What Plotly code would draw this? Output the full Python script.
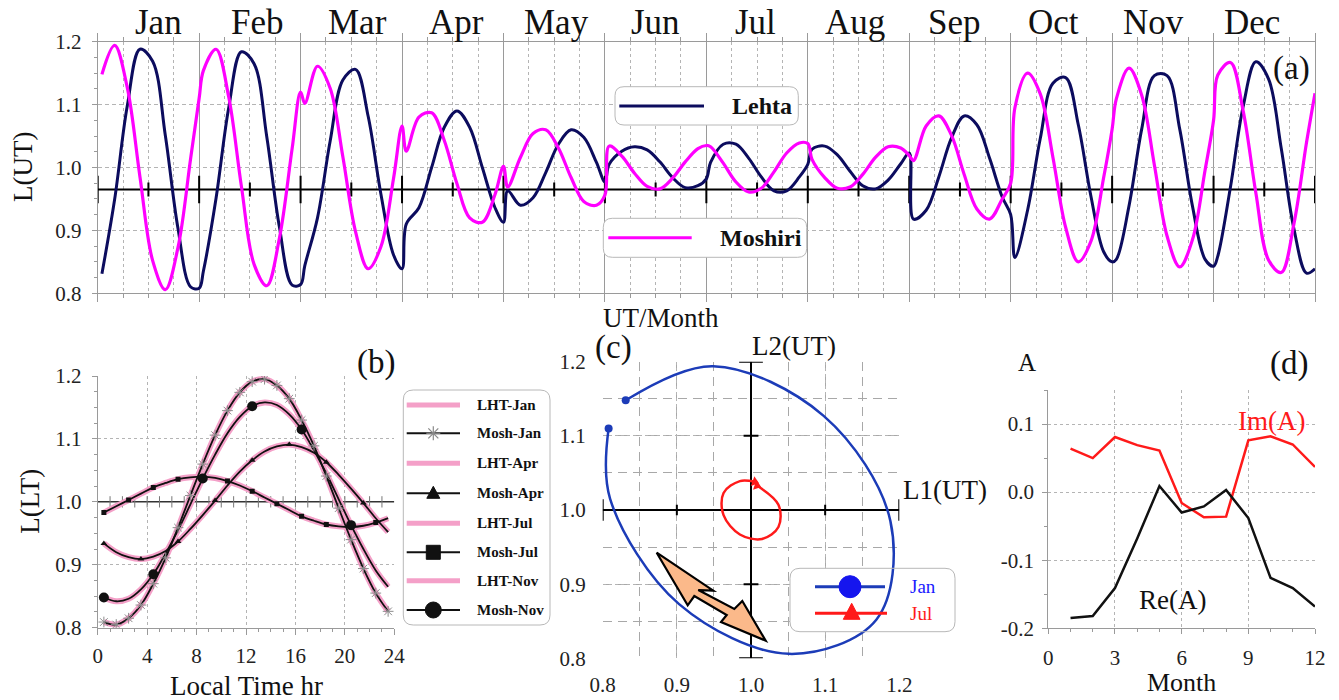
import plotly.graph_objects as go

W, H = 1339, 700
SERIF = "Liberation Serif"

# ------------------------------------------------------------------ data
months = ["Jan", "Feb", "Mar", "Apr", "May", "Jun", "Jul", "Aug", "Sep", "Oct", "Nov", "Dec"]
ut_hours = [1, 4, 7, 10, 13, 16, 19, 22, 24]          # UT hour inside each month

lehta_jan = [0.831, 0.949, 1.098, 1.188, 1.169, 1.051, 0.903, 0.810, 0.808]
lehta_feb = [0.835, 0.951, 1.095, 1.184, 1.165, 1.049, 0.905, 0.813, 0.814]
lehta_mar = [0.844, 0.920, 1.042, 1.139, 1.156, 1.081, 0.958, 0.861, 0.839]
lehta_apr = [0.910, 0.936, 1.000, 1.064, 1.090, 1.064, 1.000, 0.936, 0.913]
lehta_may = [0.963, 0.940, 0.952, 0.992, 1.037, 1.060, 1.048, 1.008, 0.977]
lehta_jun = [1.005, 1.026, 1.033, 1.028, 1.009, 0.984, 0.968, 0.971, 0.982]
lehta_jul = [1.008, 1.037, 1.037, 1.015, 0.985, 0.963, 0.963, 0.985, 1.005]
lehta_aug = [1.029, 1.034, 1.020, 0.994, 0.971, 0.966, 0.980, 1.006, 1.023]
lehta_sep = [0.918, 0.932, 0.985, 1.047, 1.082, 1.068, 1.015, 0.953, 0.925]
lehta_oct = [0.857, 0.932, 1.046, 1.134, 1.143, 1.068, 0.954, 0.866, 0.850]
lehta_nov = [0.854, 0.939, 1.061, 1.146, 1.146, 1.061, 0.939, 0.854, 0.843]
lehta_dec = [0.859, 0.969, 1.097, 1.168, 1.141, 1.031, 0.903, 0.832, 0.839]

moshiri_jan = [1.148, 1.194, 1.127, 0.985, 0.852, 0.806, 0.873, 1.015, 1.110]
moshiri_feb = [1.154, 1.188, 1.112, 0.970, 0.846, 0.812, 0.888, 1.030, 1.120]
moshiri_mar = [1.102, 1.161, 1.126, 1.017, 0.898, 0.839, 0.874, 0.983, 1.066]
moshiri_apr = [1.026, 1.080, 1.087, 1.043, 0.974, 0.920, 0.913, 0.957, 1.002]
moshiri_may = [0.969, 1.016, 1.054, 1.060, 1.031, 0.984, 0.946, 0.940, 0.956]
moshiri_jun = [1.034, 1.018, 0.991, 0.970, 0.966, 0.983, 1.009, 1.030, 1.035]
moshiri_jul = [1.033, 1.007, 0.977, 0.961, 0.967, 0.993, 1.023, 1.039, 1.038]
moshiri_aug = [1.013, 0.984, 0.967, 0.969, 0.989, 1.016, 1.033, 1.031, 1.019]
moshiri_sep = [1.011, 1.066, 1.082, 1.051, 0.989, 0.934, 0.918, 0.950, 0.975]
moshiri_oct = [1.095, 1.150, 1.117, 1.016, 0.905, 0.850, 0.883, 0.984, 1.061]
moshiri_nov = [1.109, 1.158, 1.115, 1.004, 0.891, 0.842, 0.885, 0.996, 1.075]
moshiri_dec = [1.147, 1.167, 1.090, 0.960, 0.853, 0.833, 0.910, 1.040, 1.118]

# local-time curves, panel (b)
lt_hours = [0.5, 1.5, 2.5, 3.5, 4.5, 5.5, 6.5, 7.5, 8.5, 9.5, 10.5, 11.5,
            12.5, 13.5, 14.5, 15.5, 16.5, 17.5, 18.5, 19.5, 20.5, 21.5, 22.5, 23.5]
lt_jan = [0.809, 0.805, 0.815, 0.836, 0.870, 0.911, 0.959, 1.010, 1.060, 1.106, 1.145, 1.174,
          1.191, 1.195, 1.185, 1.164, 1.130, 1.089, 1.041, 0.990, 0.940, 0.894, 0.855, 0.826]
lt_apr = [0.934, 0.920, 0.912, 0.909, 0.913, 0.922, 0.937, 0.957, 0.979, 1.002, 1.026, 1.048,
          1.066, 1.080, 1.088, 1.091, 1.087, 1.078, 1.063, 1.043, 1.021, 0.998, 0.974, 0.952]
lt_jul = [0.983, 0.993, 1.003, 1.013, 1.023, 1.030, 1.036, 1.039, 1.040, 1.038, 1.033, 1.026,
          1.017, 1.007, 0.997, 0.987, 0.977, 0.970, 0.964, 0.961, 0.960, 0.962, 0.967, 0.974]
lt_nov = [0.848, 0.842, 0.846, 0.861, 0.885, 0.918, 0.955, 0.996, 1.037, 1.075, 1.109, 1.135,
          1.152, 1.158, 1.154, 1.139, 1.115, 1.082, 1.045, 1.004, 0.963, 0.925, 0.891, 0.865]
lt_labels = ["Jan", "Apr", "Jul", "Nov"]

# panel (d)
month_num = [1, 2, 3, 4, 5, 6, 7, 8, 9, 10, 11, 12]
re_a = [-0.185, -0.182, -0.141, -0.068, 0.009, -0.030, -0.021, 0.003, -0.038, -0.126, -0.141, -0.168]
im_a = [0.064, 0.050, 0.081, 0.069, 0.061, -0.016, -0.037, -0.036, 0.076, 0.082, 0.070, 0.037]

# ------------------------------------------------------------------ style
NAVY = "#0c0c5e"
MAG = "#ff00ff"
PINK = "#f4a0c8"
BLUE = "#1c3cb8"
RED = "#ff1a1a"
AXG = "#9a9a9a"
GRD = "#b4b4b4"
TICKF = dict(family=SERIF, size=21, color="#222")


def PX(px):
    return px / W


def PY(py):
    return 1 - py / H


def dom_x(a, b):
    return [a / W, b / W]


def dom_y(top, bottom):
    return [1 - bottom / H, 1 - top / H]


lehta_months = [lehta_jan, lehta_feb, lehta_mar, lehta_apr, lehta_may, lehta_jun,
                lehta_jul, lehta_aug, lehta_sep, lehta_oct, lehta_nov, lehta_dec]
moshiri_months = [moshiri_jan, moshiri_feb, moshiri_mar, moshiri_apr, moshiri_may, moshiri_jun,
                  moshiri_jul, moshiri_aug, moshiri_sep, moshiri_oct, moshiri_nov, moshiri_dec]
ut_x = [24 * k + h for k in range(len(months)) for h in ut_hours]
lehta_all = [v for m in lehta_months for v in m]
moshiri_all = [v for m in moshiri_months for v in m]

fig = go.Figure()

# ---------------- panel (a)
fig.add_trace(go.Scatter(x=ut_x, y=lehta_all, mode="lines", name="Lehta",
                         line=dict(color=NAVY, width=3, shape="spline", smoothing=1.0),
                         xaxis="x", yaxis="y"))
fig.add_trace(go.Scatter(x=ut_x, y=moshiri_all, mode="lines", name="Moshiri",
                         line=dict(color=MAG, width=3.2, shape="spline", smoothing=1.0),
                         xaxis="x", yaxis="y"))

# ---------------- panel (b)
lt_sets = [lt_jan, lt_apr, lt_jul, lt_nov]
for vals, lab in zip(lt_sets, lt_labels):
    fig.add_trace(go.Scatter(x=lt_hours, y=vals, mode="lines", name="LHT-" + lab,
                             line=dict(color=PINK, width=6, shape="spline"),
                             xaxis="x2", yaxis="y2"))
for vals, lab in zip(lt_sets, lt_labels):
    fig.add_trace(go.Scatter(x=lt_hours, y=vals, mode="lines", name="Mosh-" + lab,
                             line=dict(color="#111", width=1.8, shape="spline"),
                             xaxis="x2", yaxis="y2"))
fig.add_trace(go.Scatter(x=lt_hours, y=lt_jan, mode="markers", marker=dict(
    symbol="asterisk-open", size=9, color="#8c8c8c", line=dict(color="#8c8c8c", width=1)),
    xaxis="x2", yaxis="y2"))
fig.add_trace(go.Scatter(x=lt_hours[::3], y=lt_apr[::3], mode="markers", marker=dict(
    symbol="triangle-up", size=6, color="#111"), xaxis="x2", yaxis="y2"))
fig.add_trace(go.Scatter(x=lt_hours[::2], y=lt_jul[::2], mode="markers", marker=dict(
    symbol="square", size=5, color="#111"), xaxis="x2", yaxis="y2"))
fig.add_trace(go.Scatter(x=lt_hours[::4], y=lt_nov[::4], mode="markers", marker=dict(
    symbol="circle", size=10, color="#111"), xaxis="x2", yaxis="y2"))

# ---------------- panel (c)
fig.add_trace(go.Scatter(x=lehta_jan, y=moshiri_jan, mode="lines", name="Jan",
                         line=dict(color=BLUE, width=2.5, shape="spline"),
                         xaxis="x3", yaxis="y3"))
fig.add_trace(go.Scatter(x=[lehta_jan[0], lehta_jan[-1]], y=[moshiri_jan[0], moshiri_jan[-1]],
                         mode="markers", marker=dict(symbol="circle", size=8, color=BLUE),
                         xaxis="x3", yaxis="y3"))
fig.add_trace(go.Scatter(x=lehta_jul, y=moshiri_jul, mode="lines", name="Jul",
                         line=dict(color=RED, width=2.5, shape="spline"),
                         xaxis="x3", yaxis="y3"))
fig.add_trace(go.Scatter(x=[lehta_jul[0], lehta_jul[-1]], y=[moshiri_jul[0], moshiri_jul[-1]],
                         mode="markers", marker=dict(symbol="triangle-up", size=9, color=RED, angle=110),
                         xaxis="x3", yaxis="y3"))

# ---------------- panel (d)
fig.add_trace(go.Scatter(x=month_num, y=im_a, mode="lines", name="Im(A)",
                         line=dict(color=RED, width=2.5), xaxis="x4", yaxis="y4"))
fig.add_trace(go.Scatter(x=month_num, y=re_a, mode="lines", name="Re(A)",
                         line=dict(color="#111", width=2.5), xaxis="x4", yaxis="y4"))

# ------------------------------------------------------------------ axes
common = dict(zeroline=False, tickfont=TICKF, automargin=False)

layout = dict(
    width=W, height=H, margin=dict(l=0, r=0, t=0, b=0, autoexpand=False),
    paper_bgcolor="white", plot_bgcolor="white", showlegend=False,
    font=dict(family=SERIF, color="#111"),
    xaxis=dict(domain=dom_x(97.7, 1315), anchor="y", range=[0, 288],
               tickmode="array", tickvals=[24 * k for k in range(13)], showticklabels=False,
               showgrid=True, gridcolor=AXG, gridwidth=1,
               ticks="outside", ticklen=8, tickcolor=AXG,
               showline=True, linecolor=AXG, mirror="ticks",
               minor=dict(tickmode="linear", tick0=0, dtick=6, showgrid=True, gridcolor=GRD,
                          griddash="dot", ticks="outside", ticklen=4, tickcolor=AXG),
               **common),
    yaxis=dict(domain=dom_y(41.7, 293.3), anchor="x", range=[0.8, 1.2],
               tickmode="array", tickvals=[0.8, 0.9, 1.0, 1.1, 1.2],
               ticktext=["0.8", "0.9", "1.0", "1.1", "1.2"],
               showgrid=True, gridcolor=GRD, griddash="4px,3px",
               ticks="outside", ticklen=5, tickcolor=AXG,
               showline=True, linecolor=AXG, mirror=True, ticklabelstandoff=6,
               minor=dict(tickmode="linear", tick0=0.8, dtick=0.025, ticks="outside",
                          ticklen=3, tickcolor=AXG, showgrid=False),
               **common),
    xaxis2=dict(domain=dom_x(97.7, 394.3), anchor="y2", range=[0, 24],
                tickmode="array", tickvals=[0, 4, 8, 12, 16, 20, 24],
                showgrid=True, gridcolor=GRD, griddash="dot",
                ticks="outside", ticklen=6, tickcolor=AXG,
                showline=True, linecolor=AXG, ticklabelstandoff=3,
                minor=dict(tickmode="linear", tick0=0, dtick=1, ticks="outside", ticklen=3,
                           tickcolor=AXG, showgrid=False),
                **common),
    yaxis2=dict(domain=dom_y(376, 627.7), anchor="x2", range=[0.8, 1.2],
                tickmode="array", tickvals=[0.8, 0.9, 1.0, 1.1, 1.2],
                ticktext=["0.8", "0.9", "1.0", "1.1", "1.2"],
                showgrid=True, gridcolor=GRD, griddash="dot",
                ticks="outside", ticklen=5, tickcolor=AXG,
                showline=True, linecolor=AXG, ticklabelstandoff=6,
                minor=dict(tickmode="linear", tick0=0.8, dtick=0.025, ticks="outside",
                           ticklen=3, tickcolor=AXG, showgrid=False),
                **common),
    xaxis3=dict(domain=dom_x(602.7, 899.3), anchor="y3", range=[0.8, 1.2],
                tickmode="array", tickvals=[0.8, 0.9, 1.0, 1.1, 1.2],
                ticktext=["0.8", "0.9", "1.0", "1.1", "1.2"],
                showgrid=True, gridcolor=GRD, griddash="dot", ticks="",
                showline=False, ticklabelstandoff=12,
                minor=dict(tickmode="linear", tick0=0.8, dtick=0.05, showgrid=True,
                           gridcolor="#a8a8a8", griddash="9px,6px"),
                **common),
    yaxis3=dict(domain=dom_y(361.7, 658.3), anchor="x3", range=[0.8, 1.2],
                tickmode="array", tickvals=[0.8, 0.9, 1.0, 1.1, 1.2],
                ticktext=["0.8", "0.9", "1.0", "1.1", "1.2"],
                showgrid=True, gridcolor=GRD, griddash="dot", ticks="",
                showline=False, ticklabelstandoff=16,
                minor=dict(tickmode="linear", tick0=0.8, dtick=0.05, showgrid=True,
                           gridcolor="#a8a8a8", griddash="9px,6px"),
                **common),
    xaxis4=dict(domain=dom_x(1048.3, 1315), anchor="y4", range=[0, 12],
                tickmode="array", tickvals=[0, 3, 6, 9, 12],
                showgrid=True, gridcolor=GRD, griddash="dot",
                ticks="outside", ticklen=5, tickcolor=AXG,
                showline=True, linecolor=AXG, ticklabelstandoff=5,
                minor=dict(tickmode="linear", tick0=0, dtick=1, ticks="outside", ticklen=3,
                           tickcolor=AXG, showgrid=False),
                **common),
    yaxis4=dict(domain=dom_y(390, 628.3), anchor="x4", range=[-0.2, 0.15],
                tickmode="array", tickvals=[-0.2, -0.1, 0.0, 0.1],
                ticktext=["-0.2", "-0.1", "0.0", "0.1"],
                showgrid=True, gridcolor=GRD, griddash="dot",
                ticks="outside", ticklen=5, tickcolor=AXG,
                showline=True, linecolor=AXG, ticklabelstandoff=4,
                minor=dict(tickmode="linear", tick0=-0.2, dtick=0.05, ticks="outside",
                           ticklen=3, tickcolor=AXG, showgrid=False),
                **common),
)

# ------------------------------------------------------------------ shapes
shapes = []


def line(x0, y0, x1, y1, xref, yref, color="#000", width=2, layer="above"):
    return dict(type="line", x0=x0, y0=y0, x1=x1, y1=y1, xref=xref, yref=yref,
                line=dict(color=color, width=width), layer=layer)


def rrect_path(x0, y0, x1, y1, r):
    """rounded rectangle in pixel coordinates -> paper path"""
    return (f"M {PX(x0 + r)},{PY(y0)} L {PX(x1 - r)},{PY(y0)} "
            f"Q {PX(x1)},{PY(y0)} {PX(x1)},{PY(y0 + r)} "
            f"L {PX(x1)},{PY(y1 - r)} Q {PX(x1)},{PY(y1)} {PX(x1 - r)},{PY(y1)} "
            f"L {PX(x0 + r)},{PY(y1)} Q {PX(x0)},{PY(y1)} {PX(x0)},{PY(y1 - r)} "
            f"L {PX(x0)},{PY(y0 + r)} Q {PX(x0)},{PY(y0)} {PX(x0 + r)},{PY(y0)} Z")


def rrect(x0, y0, x1, y1, r=9, fill="white", layer="above"):
    return dict(type="path", xref="paper", yref="paper", path=rrect_path(x0, y0, x1, y1, r),
                line=dict(color="#b8b8b8", width=1), fillcolor=fill, layer=layer)


# (a) black reference axis with month ticks
AX_A = 0.965
shapes.append(line(0, AX_A, 288, AX_A, "x", "y", width=2, layer="between"))
for k in range(13):
    shapes.append(line(24 * k, AX_A - 0.022, 24 * k, AX_A + 0.022, "x", "y", width=2, layer="between"))
for k in range(12):
    shapes.append(line(24 * k + 12, AX_A - 0.011, 24 * k + 12, AX_A + 0.011, "x", "y", width=2, layer="between"))

# (b) black axis at 1.0 with hourly ticks
shapes.append(line(0, 1.0, 24, 1.0, "x2", "y2", color="#333", width=1.5, layer="between"))
for h in range(1, 24):
    shapes.append(line(h, 0.991, h, 1.009, "x2", "y2", color="#777", width=1, layer="between"))


# (c) legend white fill (between grid and traces)
def cx_(px):
    return 0.8 + (px - 602.7) / 741.5


def cy_(py):
    return 1.2 - (py - 361.7) / 741.5


shapes.append(dict(type="rect", xref="x3", yref="y3", x0=cx_(790), x1=cx_(955),
                   y0=cy_(631.7), y1=cy_(568.3), fillcolor="white", line=dict(width=0),
                   layer="between"))

# (c) cross axes
shapes.append(line(0.8, 1.0, 1.2, 1.0, "x3", "y3", width=2, layer="between"))
shapes.append(line(1.0, 0.8, 1.0, 1.2, "x3", "y3", width=2, layer="between"))
for xv, dl in [(0.8, 0.0145), (0.9, 0.007), (1.1, 0.007), (1.2, 0.0145)]:
    shapes.append(line(xv, 1.0 - dl, xv, 1.0 + dl, "x3", "y3", width=2, layer="between"))
for yv, dl in [(0.8, 0.016), (0.9, 0.010), (1.1, 0.010), (1.2, 0.016)]:
    shapes.append(line(1.0 - dl, yv, 1.0 + dl, yv, "x3", "y3", width=2, layer="between"))

# (c) orange double arrow (pixel outline -> paper)
arrow_px = [(656.7, 552.7), (713.3, 590.7), (698.3, 590.0), (734.3, 609.0), (742.3, 601.0),
            (765.7, 640.7), (721.0, 622.0), (726.7, 615.0), (694.3, 596.0), (687.7, 605.3)]
apath = "M " + " L ".join(f"{PX(a)},{PY(b)}" for a, b in arrow_px) + " Z"
shapes.append(dict(type="path", xref="paper", yref="paper", path=apath,
                   fillcolor="#fbb98a", line=dict(color="#000", width=2.2), layer="above"))

# (a) legend boxes
shapes.append(rrect(615, 86.7, 798.3, 125))
shapes.append(line(PX(619.3), PY(106), PX(704), PY(106), "paper", "paper", color=NAVY, width=3))
shapes.append(rrect(603.3, 218.3, 806.7, 257.3))
shapes.append(line(PX(608.3), PY(237.7), PX(691.7), PY(237.7), "paper", "paper", color=MAG, width=3))

# (b) legend
shapes.append(rrect(403.3, 390, 550, 625, r=10))
rows_b = [405, 433.3, 463.3, 493.3, 523.3, 552.3, 580.7, 610]
for i, yc in enumerate(rows_b):
    if i % 2 == 0:
        shapes.append(line(PX(406.7), PY(yc), PX(460), PY(yc), "paper", "paper", color=PINK, width=5))
    else:
        shapes.append(line(PX(406.7), PY(yc), PX(460), PY(yc), "paper", "paper", color="#111", width=2))
cx = 433.3
yc = rows_b[1]
for dx, dy in [(7, 0), (0, 7), (5, 5), (5, -5)]:
    shapes.append(line(PX(cx - dx), PY(yc - dy), PX(cx + dx), PY(yc + dy), "paper", "paper",
                       color="#8a8a8a", width=1.2))
yc = rows_b[3]
shapes.append(dict(type="path", xref="paper", yref="paper",
                   path=f"M {PX(cx - 6.5)},{PY(yc + 5)} L {PX(cx + 6.5)},{PY(yc + 5)} L {PX(cx)},{PY(yc - 7)} Z",
                   fillcolor="#111", line=dict(color="#111", width=1)))
yc = rows_b[5]
shapes.append(dict(type="rect", xref="paper", yref="paper", x0=PX(cx - 7), x1=PX(cx + 7),
                   y0=PY(yc - 7), y1=PY(yc + 7), fillcolor="#111", line=dict(color="#111", width=1)))
yc = rows_b[7]
shapes.append(dict(type="circle", xref="paper", yref="paper", x0=PX(cx - 8), x1=PX(cx + 8),
                   y0=PY(yc - 8), y1=PY(yc + 8), fillcolor="#111", line=dict(color="#111", width=1)))

# (c) legend outline and samples
shapes.append(rrect(790, 568.3, 955, 631.7, r=10, fill="rgba(0,0,0,0)"))
shapes.append(line(PX(815), PY(586.7), PX(885), PY(586.7), "paper", "paper", color=BLUE, width=3))
shapes.append(dict(type="circle", xref="paper", yref="paper", x0=PX(850 - 11), x1=PX(850 + 11),
                   y0=PY(586.7 - 11), y1=PY(586.7 + 11), fillcolor="#1515ee", line=dict(color="#1515ee", width=1)))
shapes.append(line(PX(815), PY(613.3), PX(887), PY(613.3), "paper", "paper", color=RED, width=3))
shapes.append(dict(type="path", xref="paper", yref="paper",
                   path=f"M {PX(843.3)},{PY(619.3)} L {PX(860)},{PY(619.3)} L {PX(851.7)},{PY(603.3)} Z",
                   fillcolor=RED, line=dict(color=RED, width=1)))

layout["shapes"] = shapes

# ------------------------------------------------------------------ annotations
ann = []


def txt(px, py, s, size, color="#111", xanchor="center", yanchor="middle", angle=0):
    ann.append(dict(x=PX(px), y=PY(py), xref="paper", yref="paper", text=s, showarrow=False,
                    font=dict(family=SERIF, size=size, color=color),
                    xanchor=xanchor, yanchor=yanchor, textangle=angle))


for k, m in enumerate(months):
    txt(158.3 + 99.47 * k, 23, m, 35)
txt(1291, 68, "(a)", 33)
txt(22.5, 167.5, "L(UT)", 27, angle=-90)
txt(661, 318, "UT/Month", 27)
txt(730, 106, "<b>Lehta</b>", 24, xanchor="left")
txt(718.3, 237.7, "<b>Moshiri</b>", 24, xanchor="left")

txt(376, 362, "(b)", 33)
txt(30, 501.7, "L(LT)", 27, angle=-90)
txt(246, 686, "Local Time hr", 27)
for i, yc in enumerate(rows_b):
    lab = ("LHT-" if i % 2 == 0 else "Mosh-") + lt_labels[i // 2]
    txt(475, yc, f"<b>{lab}</b>", 15, xanchor="left")

txt(613, 347, "(c)", 33)
txt(793.5, 346, "L2(UT)", 27)
txt(945, 490, "L1(UT)", 27)
txt(908, 586.7, "Jan", 19, color="#1a1aff", xanchor="left")
txt(908, 613.3, "Jul", 19, color=RED, xanchor="left")

txt(1027, 362, "A", 25)
txt(1289, 363, "(d)", 33)
txt(1271.7, 421, "Im(A)", 27, color=RED)
txt(1172.5, 600, "Re(A)", 27)
txt(1181.7, 682, "Month", 26)

layout["annotations"] = ann
fig.update_layout(**layout)
fig.write_html("out.html")
